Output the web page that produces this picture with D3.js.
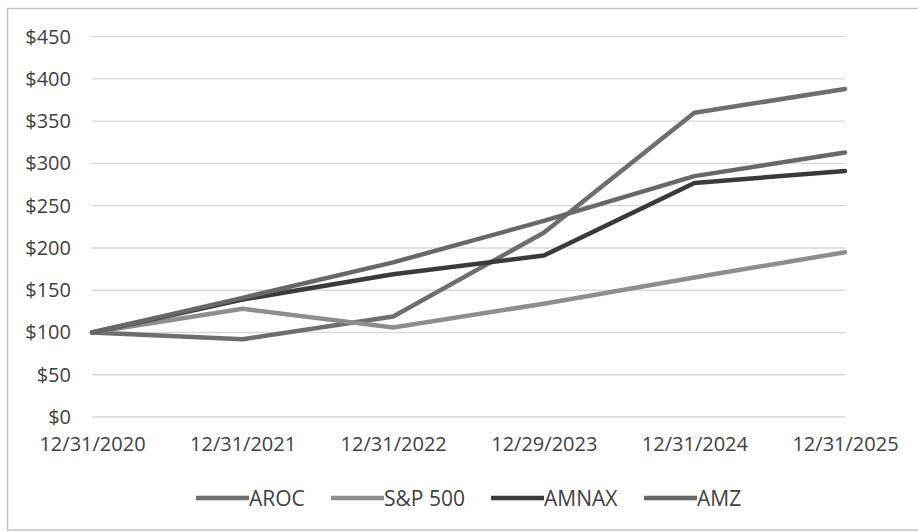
<!DOCTYPE html>
<html>
<head>
<meta charset="utf-8">
<script src="https://cdn.jsdelivr.net/npm/d3@7"></script>
<style>
  html, body { margin: 0; padding: 0; background: #ffffff; }
  svg { display: block; }
  text { font-family: "Open Sans", "Noto Sans", sans-serif; fill: #404040; }
</style>
</head>
<body>
<svg id="chart" width="918" height="532"></svg>
<script>
// Growth of a $100 investment
const dates = ["12/31/2020", "12/31/2021", "12/31/2022", "12/29/2023", "12/31/2024", "12/31/2025"];
const seriesNames = ["AROC", "S&P 500", "AMNAX", "AMZ"];
const arocValues  = [100, 92, 119, 218, 360, 388];
const spxValues   = [100, 128, 106, 134, 165, 195];
const amnaxValues = [100, 139, 169, 191, 277, 291];
const amzValues   = [100, 141, 183, 232, 285, 313];
const yTicks = [0, 50, 100, 150, 200, 250, 300, 350, 400, 450];
const seriesColors = ["#6e6e6e", "#8e8e8e", "#3a3a3a", "#686868"];

const series = [arocValues, spxValues, amnaxValues, amzValues].map((vals, i) => ({
  name: seriesNames[i], color: seriesColors[i], values: vals
}));

const svg = d3.select("#chart");

// outer chart frame
svg.append("rect")
  .attr("x", 7.5).attr("y", 8.5)
  .attr("width", 930).attr("height", 521.5)
  .attr("fill", "#ffffff").attr("stroke", "#c4c4c4").attr("stroke-width", 1.5);

const x = d3.scalePoint().domain(dates).range([92, 845]);
const y = d3.scaleLinear().domain([0, 450]).range([417, 36.7]);

// horizontal gridlines
svg.append("g")
  .selectAll("line")
  .data(yTicks)
  .join("line")
  .attr("x1", 92).attr("x2", 845)
  .attr("y1", d => y(d)).attr("y2", d => y(d))
  .attr("stroke", "#d9d9d9").attr("stroke-width", 1.3);

// y axis labels
const yAxis = d3.axisLeft(y).tickValues(yTicks).tickFormat(d => "$" + d).tickSize(0).tickPadding(0);
const yg = svg.append("g").attr("transform", "translate(71,0)").call(yAxis);
yg.select(".domain").remove();
yg.selectAll("text")
  .style("font-family", "'Open Sans', sans-serif")
  .style("font-size", "20px")
  .attr("fill", "#404040");

// x axis labels
const xAxis = d3.axisBottom(x).tickSize(0).tickPadding(0);
const xg = svg.append("g").attr("transform", "translate(0,437)").call(xAxis);
xg.select(".domain").remove();
xg.selectAll("text")
  .style("font-family", "'Open Sans', sans-serif")
  .style("font-size", "20px")
  .attr("fill", "#404040");

// series lines
const line = d3.line()
  .x((d, i) => x(dates[i]))
  .y(d => y(d));

svg.append("g")
  .selectAll("path")
  .data(series)
  .join("path")
  .attr("d", d => line(d.values))
  .attr("fill", "none")
  .attr("stroke", d => d.color)
  .attr("stroke-width", 4.5)
  .attr("stroke-linejoin", "round")
  .attr("stroke-linecap", "round");

// legend
const legendX = [196, 331, 491, 644];
const legend = svg.append("g")
  .selectAll("g")
  .data(series)
  .join("g")
  .attr("transform", (d, i) => `translate(${legendX[i]},498)`);
legend.append("line")
  .attr("x1", 0).attr("x2", 53)
  .attr("y1", 0).attr("y2", 0)
  .attr("stroke", d => d.color)
  .attr("stroke-width", 4.5);
legend.append("text")
  .attr("x", 53).attr("y", 7.5)
  .style("font-size", "21px")
  .text(d => d.name);
</script>
</body>
</html>
